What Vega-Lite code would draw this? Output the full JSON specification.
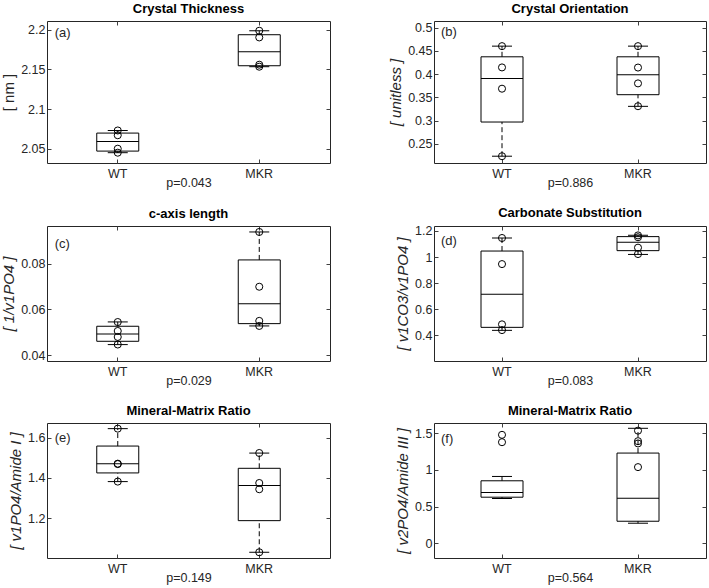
{
  "$schema": "https://vega.github.io/schema/vega-lite/v6.json",
  "padding": {"left": 1, "top": 2, "right": 0, "bottom": 0},
  "background": "white",
  "datasets": {
    "boxes": [
      {"panel": "a", "group": "WT", "lo": 2.045, "q1": 2.047, "med": 2.0592, "q3": 2.0697, "hi": 2.073},
      {"panel": "a", "group": "MKR", "lo": 2.1534, "q1": 2.1546, "med": 2.1723, "q3": 2.1937, "hi": 2.1987},
      {"panel": "b", "group": "WT", "lo": 0.2236, "q1": 0.297, "med": 0.3907, "q3": 0.4371, "hi": 0.46},
      {"panel": "b", "group": "MKR", "lo": 0.3307, "q1": 0.3557, "med": 0.3986, "q3": 0.4371, "hi": 0.46},
      {"panel": "c", "group": "WT", "lo": 0.04466, "q1": 0.0461, "med": 0.0493, "q3": 0.05266, "hi": 0.05455},
      {"panel": "c", "group": "MKR", "lo": 0.0528, "q1": 0.0538, "med": 0.0625, "q3": 0.0816, "hi": 0.0938},
      {"panel": "d", "group": "WT", "lo": 0.438, "q1": 0.461, "med": 0.715, "q3": 1.046, "hi": 1.146},
      {"panel": "d", "group": "MKR", "lo": 1.02, "q1": 1.049, "med": 1.113, "q3": 1.1566, "hi": 1.167},
      {"panel": "e", "group": "WT", "lo": 1.382, "q1": 1.425, "med": 1.471, "q3": 1.5585, "hi": 1.645},
      {"panel": "e", "group": "MKR", "lo": 1.031, "q1": 1.188, "med": 1.362, "q3": 1.448, "hi": 1.5236},
      {"panel": "f", "group": "WT", "lo": 0.609, "q1": 0.627, "med": 0.691, "q3": 0.85, "hi": 0.909},
      {"panel": "f", "group": "MKR", "lo": 0.273, "q1": 0.3, "med": 0.614, "q3": 1.227, "hi": 1.564}
    ],
    "points": [
      {"panel": "a", "group": "WT", "v": 2.073}, {"panel": "a", "group": "WT", "v": 2.067}, {"panel": "a", "group": "WT", "v": 2.05}, {"panel": "a", "group": "WT", "v": 2.045},
      {"panel": "a", "group": "MKR", "v": 2.1987}, {"panel": "a", "group": "MKR", "v": 2.1903}, {"panel": "a", "group": "MKR", "v": 2.1559}, {"panel": "a", "group": "MKR", "v": 2.1534},
      {"panel": "b", "group": "WT", "v": 0.46}, {"panel": "b", "group": "WT", "v": 0.4143}, {"panel": "b", "group": "WT", "v": 0.3686}, {"panel": "b", "group": "WT", "v": 0.2236},
      {"panel": "b", "group": "MKR", "v": 0.46}, {"panel": "b", "group": "MKR", "v": 0.414}, {"panel": "b", "group": "MKR", "v": 0.38}, {"panel": "b", "group": "MKR", "v": 0.331},
      {"panel": "c", "group": "WT", "v": 0.0545}, {"panel": "c", "group": "WT", "v": 0.0506}, {"panel": "c", "group": "WT", "v": 0.048}, {"panel": "c", "group": "WT", "v": 0.0447},
      {"panel": "c", "group": "MKR", "v": 0.0938}, {"panel": "c", "group": "MKR", "v": 0.0699}, {"panel": "c", "group": "MKR", "v": 0.055}, {"panel": "c", "group": "MKR", "v": 0.0528},
      {"panel": "d", "group": "WT", "v": 1.146}, {"panel": "d", "group": "WT", "v": 0.946}, {"panel": "d", "group": "WT", "v": 0.484}, {"panel": "d", "group": "WT", "v": 0.44},
      {"panel": "d", "group": "MKR", "v": 1.166}, {"panel": "d", "group": "MKR", "v": 1.152}, {"panel": "d", "group": "MKR", "v": 1.072}, {"panel": "d", "group": "MKR", "v": 1.023},
      {"panel": "e", "group": "WT", "v": 1.645}, {"panel": "e", "group": "WT", "v": 1.471}, {"panel": "e", "group": "WT", "v": 1.469}, {"panel": "e", "group": "WT", "v": 1.382},
      {"panel": "e", "group": "MKR", "v": 1.524}, {"panel": "e", "group": "MKR", "v": 1.375}, {"panel": "e", "group": "MKR", "v": 1.344}, {"panel": "e", "group": "MKR", "v": 1.031},
      {"panel": "f", "group": "WT", "v": 1.475}, {"panel": "f", "group": "WT", "v": 1.375},
      {"panel": "f", "group": "MKR", "v": 1.532}, {"panel": "f", "group": "MKR", "v": 1.389}, {"panel": "f", "group": "MKR", "v": 1.358}, {"panel": "f", "group": "MKR", "v": 1.036}
    ],
    "labels": [
      {"panel": "a", "label": "(a)"}, {"panel": "b", "label": "(b)"}, {"panel": "c", "label": "(c)"},
      {"panel": "d", "label": "(d)"}, {"panel": "e", "label": "(e)"}, {"panel": "f", "label": "(f)"}
    ]
  },
  "columns": 2,
  "align": "each",
  "spacing": {"row": 16, "column": 57},
  "concat": [
    {
      "title": "Crystal Thickness",
      "width": 283, "height": 142,
      "resolve": {"axis": {"x": "independent", "y": "independent"}},
      "encoding": {"x": {"field": "group", "type": "nominal", "scale": {"type": "band", "domain": ["WT", "MKR"], "paddingInner": 0, "paddingOuter": 0}, "axis": null}},
      "layer": [
        {"data": {"name": "boxes"}, "transform": [{"filter": "datum.panel === 'a'"}],
         "mark": {"type": "bar", "size": 42, "fill": "white", "stroke": "black", "strokeWidth": 1},
         "encoding": {
           "x": {"field": "group", "type": "nominal", "axis": {"orient": "bottom", "title": "p=0.043", "labelAngle": 0, "bandPosition": 0.5}},
           "y": {"field": "q1", "type": "quantitative", "scale": {"domain": [2.032, 2.211], "nice": false, "zero": false}, "axis": {"title": "[ nm ]", "titleFontStyle": "normal", "values": [2.05, 2.1, 2.15, 2.2], "format": "~g"}},
           "y2": {"field": "q3"}}},
        {"data": {"name": "boxes"}, "transform": [{"filter": "datum.panel === 'a'"}],
         "mark": {"type": "rule", "strokeDash": [5, 3], "color": "black"},
         "encoding": {"y": {"field": "q3", "type": "quantitative", "scale": {"domain": [2.032, 2.211], "nice": false, "zero": false}, "axis": null}, "y2": {"field": "hi"}}},
        {"data": {"name": "boxes"}, "transform": [{"filter": "datum.panel === 'a'"}],
         "mark": {"type": "rule", "strokeDash": [5, 3], "color": "black"},
         "encoding": {"y": {"field": "lo", "type": "quantitative", "scale": {"domain": [2.032, 2.211], "nice": false, "zero": false}, "axis": null}, "y2": {"field": "q1"}}},
        {"data": {"name": "boxes"}, "transform": [{"filter": "datum.panel === 'a'"}],
         "mark": {"type": "tick", "size": 42, "thickness": 1, "color": "black", "opacity": 1},
         "encoding": {"y": {"field": "med", "type": "quantitative", "scale": {"domain": [2.032, 2.211], "nice": false, "zero": false}, "axis": null}}},
        {"data": {"name": "boxes"}, "transform": [{"filter": "datum.panel === 'a'"}, {"fold": ["lo", "hi"]}],
         "mark": {"type": "tick", "size": 20, "thickness": 1, "color": "black", "opacity": 1},
         "encoding": {"y": {"field": "value", "type": "quantitative", "scale": {"domain": [2.032, 2.211], "nice": false, "zero": false}, "axis": null}}},
        {"data": {"name": "points"}, "transform": [{"filter": "datum.panel === 'a'"}],
         "mark": {"type": "point", "shape": "circle", "filled": false, "size": 50, "stroke": "black", "strokeWidth": 1, "opacity": 1},
         "encoding": {
           "x": {"field": "group", "type": "nominal", "axis": {"orient": "top", "labels": false, "title": null, "bandPosition": 0.5}},
           "y": {"field": "v", "type": "quantitative", "scale": {"domain": [2.032, 2.211], "nice": false, "zero": false}, "axis": {"orient": "right", "labels": false, "title": null, "values": [2.05, 2.1, 2.15, 2.2]}}}},
        {"data": {"name": "labels"}, "transform": [{"filter": "datum.panel === 'a'"}],
         "mark": {"type": "text", "align": "left", "baseline": "middle", "fontSize": 13, "dx": -63, "color": "#262626"},
         "encoding": {"x": {"datum": "WT", "axis": null}, "y": {"datum": 2.196, "axis": null}, "text": {"field": "label"}}}
      ]
    },
    {
      "title": "Crystal Orientation",
      "width": 272, "height": 142,
      "resolve": {"axis": {"x": "independent", "y": "independent"}},
      "encoding": {"x": {"field": "group", "type": "nominal", "scale": {"type": "band", "domain": ["WT", "MKR"], "paddingInner": 0, "paddingOuter": 0}, "axis": null}},
      "layer": [
        {"data": {"name": "boxes"}, "transform": [{"filter": "datum.panel === 'b'"}],
         "mark": {"type": "bar", "size": 42, "fill": "white", "stroke": "black", "strokeWidth": 1},
         "encoding": {
           "x": {"field": "group", "type": "nominal", "axis": {"orient": "bottom", "title": "p=0.886", "labelAngle": 0, "bandPosition": 0.5}},
           "y": {"field": "q1", "type": "quantitative", "scale": {"domain": [0.209, 0.514], "nice": false, "zero": false}, "axis": {"title": "[ unitless ]", "values": [0.25, 0.3, 0.35, 0.4, 0.45, 0.5], "format": "~g"}},
           "y2": {"field": "q3"}}},
        {"data": {"name": "boxes"}, "transform": [{"filter": "datum.panel === 'b'"}],
         "mark": {"type": "rule", "strokeDash": [5, 3], "color": "black"},
         "encoding": {"y": {"field": "q3", "type": "quantitative", "scale": {"domain": [0.209, 0.514], "nice": false, "zero": false}, "axis": null}, "y2": {"field": "hi"}}},
        {"data": {"name": "boxes"}, "transform": [{"filter": "datum.panel === 'b'"}],
         "mark": {"type": "rule", "strokeDash": [5, 3], "color": "black"},
         "encoding": {"y": {"field": "lo", "type": "quantitative", "scale": {"domain": [0.209, 0.514], "nice": false, "zero": false}, "axis": null}, "y2": {"field": "q1"}}},
        {"data": {"name": "boxes"}, "transform": [{"filter": "datum.panel === 'b'"}],
         "mark": {"type": "tick", "size": 42, "thickness": 1, "color": "black", "opacity": 1},
         "encoding": {"y": {"field": "med", "type": "quantitative", "scale": {"domain": [0.209, 0.514], "nice": false, "zero": false}, "axis": null}}},
        {"data": {"name": "boxes"}, "transform": [{"filter": "datum.panel === 'b'"}, {"fold": ["lo", "hi"]}],
         "mark": {"type": "tick", "size": 20, "thickness": 1, "color": "black", "opacity": 1},
         "encoding": {"y": {"field": "value", "type": "quantitative", "scale": {"domain": [0.209, 0.514], "nice": false, "zero": false}, "axis": null}}},
        {"data": {"name": "points"}, "transform": [{"filter": "datum.panel === 'b'"}],
         "mark": {"type": "point", "shape": "circle", "filled": false, "size": 50, "stroke": "black", "strokeWidth": 1, "opacity": 1},
         "encoding": {
           "x": {"field": "group", "type": "nominal", "axis": {"orient": "top", "labels": false, "title": null, "bandPosition": 0.5}},
           "y": {"field": "v", "type": "quantitative", "scale": {"domain": [0.209, 0.514], "nice": false, "zero": false}, "axis": {"orient": "right", "labels": false, "title": null, "values": [0.25, 0.3, 0.35, 0.4, 0.45, 0.5]}}}},
        {"data": {"name": "labels"}, "transform": [{"filter": "datum.panel === 'b'"}],
         "mark": {"type": "text", "align": "left", "baseline": "middle", "fontSize": 13, "dx": -61, "color": "#262626"},
         "encoding": {"x": {"datum": "WT", "axis": null}, "y": {"datum": 0.4907, "axis": null}, "text": {"field": "label"}}}
      ]
    },
    {
      "title": "c-axis length",
      "width": 283, "height": 135,
      "resolve": {"axis": {"x": "independent", "y": "independent"}},
      "encoding": {"x": {"field": "group", "type": "nominal", "scale": {"type": "band", "domain": ["WT", "MKR"], "paddingInner": 0, "paddingOuter": 0}, "axis": null}},
      "layer": [
        {"data": {"name": "boxes"}, "transform": [{"filter": "datum.panel === 'c'"}],
         "mark": {"type": "bar", "size": 42, "fill": "white", "stroke": "black", "strokeWidth": 1},
         "encoding": {
           "x": {"field": "group", "type": "nominal", "axis": {"orient": "bottom", "title": "p=0.029", "labelAngle": 0, "bandPosition": 0.5}},
           "y": {"field": "q1", "type": "quantitative", "scale": {"domain": [0.0375, 0.0964], "nice": false, "zero": false}, "axis": {"title": "[ 1/v1PO4 ]", "values": [0.04, 0.06, 0.08], "format": "~g"}},
           "y2": {"field": "q3"}}},
        {"data": {"name": "boxes"}, "transform": [{"filter": "datum.panel === 'c'"}],
         "mark": {"type": "rule", "strokeDash": [5, 3], "color": "black"},
         "encoding": {"y": {"field": "q3", "type": "quantitative", "scale": {"domain": [0.0375, 0.0964], "nice": false, "zero": false}, "axis": null}, "y2": {"field": "hi"}}},
        {"data": {"name": "boxes"}, "transform": [{"filter": "datum.panel === 'c'"}],
         "mark": {"type": "rule", "strokeDash": [5, 3], "color": "black"},
         "encoding": {"y": {"field": "lo", "type": "quantitative", "scale": {"domain": [0.0375, 0.0964], "nice": false, "zero": false}, "axis": null}, "y2": {"field": "q1"}}},
        {"data": {"name": "boxes"}, "transform": [{"filter": "datum.panel === 'c'"}],
         "mark": {"type": "tick", "size": 42, "thickness": 1, "color": "black", "opacity": 1},
         "encoding": {"y": {"field": "med", "type": "quantitative", "scale": {"domain": [0.0375, 0.0964], "nice": false, "zero": false}, "axis": null}}},
        {"data": {"name": "boxes"}, "transform": [{"filter": "datum.panel === 'c'"}, {"fold": ["lo", "hi"]}],
         "mark": {"type": "tick", "size": 20, "thickness": 1, "color": "black", "opacity": 1},
         "encoding": {"y": {"field": "value", "type": "quantitative", "scale": {"domain": [0.0375, 0.0964], "nice": false, "zero": false}, "axis": null}}},
        {"data": {"name": "points"}, "transform": [{"filter": "datum.panel === 'c'"}],
         "mark": {"type": "point", "shape": "circle", "filled": false, "size": 50, "stroke": "black", "strokeWidth": 1, "opacity": 1},
         "encoding": {
           "x": {"field": "group", "type": "nominal", "axis": {"orient": "top", "labels": false, "title": null, "bandPosition": 0.5}},
           "y": {"field": "v", "type": "quantitative", "scale": {"domain": [0.0375, 0.0964], "nice": false, "zero": false}, "axis": {"orient": "right", "labels": false, "title": null, "values": [0.04, 0.06, 0.08]}}}},
        {"data": {"name": "labels"}, "transform": [{"filter": "datum.panel === 'c'"}],
         "mark": {"type": "text", "align": "left", "baseline": "middle", "fontSize": 13, "dx": -63, "color": "#262626"},
         "encoding": {"x": {"datum": "WT", "axis": null}, "y": {"datum": 0.0887, "axis": null}, "text": {"field": "label"}}}
      ]
    },
    {
      "title": "Carbonate Substitution",
      "width": 272, "height": 135,
      "resolve": {"axis": {"x": "independent", "y": "independent"}},
      "encoding": {"x": {"field": "group", "type": "nominal", "scale": {"type": "band", "domain": ["WT", "MKR"], "paddingInner": 0, "paddingOuter": 0}, "axis": null}},
      "layer": [
        {"data": {"name": "boxes"}, "transform": [{"filter": "datum.panel === 'd'"}],
         "mark": {"type": "bar", "size": 42, "fill": "white", "stroke": "black", "strokeWidth": 1},
         "encoding": {
           "x": {"field": "group", "type": "nominal", "axis": {"orient": "bottom", "title": "p=0.083", "labelAngle": 0, "bandPosition": 0.5}},
           "y": {"field": "q1", "type": "quantitative", "scale": {"domain": [0.203, 1.238], "nice": false, "zero": false}, "axis": {"title": "[ v1CO3/v1PO4 ]", "values": [0.4, 0.6, 0.8, 1, 1.2], "format": "~g"}},
           "y2": {"field": "q3"}}},
        {"data": {"name": "boxes"}, "transform": [{"filter": "datum.panel === 'd'"}],
         "mark": {"type": "rule", "strokeDash": [5, 3], "color": "black"},
         "encoding": {"y": {"field": "q3", "type": "quantitative", "scale": {"domain": [0.203, 1.238], "nice": false, "zero": false}, "axis": null}, "y2": {"field": "hi"}}},
        {"data": {"name": "boxes"}, "transform": [{"filter": "datum.panel === 'd'"}],
         "mark": {"type": "rule", "strokeDash": [5, 3], "color": "black"},
         "encoding": {"y": {"field": "lo", "type": "quantitative", "scale": {"domain": [0.203, 1.238], "nice": false, "zero": false}, "axis": null}, "y2": {"field": "q1"}}},
        {"data": {"name": "boxes"}, "transform": [{"filter": "datum.panel === 'd'"}],
         "mark": {"type": "tick", "size": 42, "thickness": 1, "color": "black", "opacity": 1},
         "encoding": {"y": {"field": "med", "type": "quantitative", "scale": {"domain": [0.203, 1.238], "nice": false, "zero": false}, "axis": null}}},
        {"data": {"name": "boxes"}, "transform": [{"filter": "datum.panel === 'd'"}, {"fold": ["lo", "hi"]}],
         "mark": {"type": "tick", "size": 20, "thickness": 1, "color": "black", "opacity": 1},
         "encoding": {"y": {"field": "value", "type": "quantitative", "scale": {"domain": [0.203, 1.238], "nice": false, "zero": false}, "axis": null}}},
        {"data": {"name": "points"}, "transform": [{"filter": "datum.panel === 'd'"}],
         "mark": {"type": "point", "shape": "circle", "filled": false, "size": 50, "stroke": "black", "strokeWidth": 1, "opacity": 1},
         "encoding": {
           "x": {"field": "group", "type": "nominal", "axis": {"orient": "top", "labels": false, "title": null, "bandPosition": 0.5}},
           "y": {"field": "v", "type": "quantitative", "scale": {"domain": [0.203, 1.238], "nice": false, "zero": false}, "axis": {"orient": "right", "labels": false, "title": null, "values": [0.4, 0.6, 0.8, 1, 1.2]}}}},
        {"data": {"name": "labels"}, "transform": [{"filter": "datum.panel === 'd'"}],
         "mark": {"type": "text", "align": "left", "baseline": "middle", "fontSize": 13, "dx": -61, "color": "#262626"},
         "encoding": {"x": {"datum": "WT", "axis": null}, "y": {"datum": 1.123, "axis": null}, "text": {"field": "label"}}}
      ]
    },
    {
      "title": "Mineral-Matrix Ratio",
      "width": 283, "height": 135,
      "resolve": {"axis": {"x": "independent", "y": "independent"}},
      "encoding": {"x": {"field": "group", "type": "nominal", "scale": {"type": "band", "domain": ["WT", "MKR"], "paddingInner": 0, "paddingOuter": 0}, "axis": null}},
      "layer": [
        {"data": {"name": "boxes"}, "transform": [{"filter": "datum.panel === 'e'"}],
         "mark": {"type": "bar", "size": 42, "fill": "white", "stroke": "black", "strokeWidth": 1},
         "encoding": {
           "x": {"field": "group", "type": "nominal", "axis": {"orient": "bottom", "title": "p=0.149", "labelAngle": 0, "bandPosition": 0.5}},
           "y": {"field": "q1", "type": "quantitative", "scale": {"domain": [1.0025, 1.673], "nice": false, "zero": false}, "axis": {"title": "[ v1PO4/Amide I ]", "values": [1.2, 1.4, 1.6], "format": "~g"}},
           "y2": {"field": "q3"}}},
        {"data": {"name": "boxes"}, "transform": [{"filter": "datum.panel === 'e'"}],
         "mark": {"type": "rule", "strokeDash": [5, 3], "color": "black"},
         "encoding": {"y": {"field": "q3", "type": "quantitative", "scale": {"domain": [1.0025, 1.673], "nice": false, "zero": false}, "axis": null}, "y2": {"field": "hi"}}},
        {"data": {"name": "boxes"}, "transform": [{"filter": "datum.panel === 'e'"}],
         "mark": {"type": "rule", "strokeDash": [5, 3], "color": "black"},
         "encoding": {"y": {"field": "lo", "type": "quantitative", "scale": {"domain": [1.0025, 1.673], "nice": false, "zero": false}, "axis": null}, "y2": {"field": "q1"}}},
        {"data": {"name": "boxes"}, "transform": [{"filter": "datum.panel === 'e'"}],
         "mark": {"type": "tick", "size": 42, "thickness": 1, "color": "black", "opacity": 1},
         "encoding": {"y": {"field": "med", "type": "quantitative", "scale": {"domain": [1.0025, 1.673], "nice": false, "zero": false}, "axis": null}}},
        {"data": {"name": "boxes"}, "transform": [{"filter": "datum.panel === 'e'"}, {"fold": ["lo", "hi"]}],
         "mark": {"type": "tick", "size": 20, "thickness": 1, "color": "black", "opacity": 1},
         "encoding": {"y": {"field": "value", "type": "quantitative", "scale": {"domain": [1.0025, 1.673], "nice": false, "zero": false}, "axis": null}}},
        {"data": {"name": "points"}, "transform": [{"filter": "datum.panel === 'e'"}],
         "mark": {"type": "point", "shape": "circle", "filled": false, "size": 50, "stroke": "black", "strokeWidth": 1, "opacity": 1},
         "encoding": {
           "x": {"field": "group", "type": "nominal", "axis": {"orient": "top", "labels": false, "title": null, "bandPosition": 0.5}},
           "y": {"field": "v", "type": "quantitative", "scale": {"domain": [1.0025, 1.673], "nice": false, "zero": false}, "axis": {"orient": "right", "labels": false, "title": null, "values": [1.2, 1.4, 1.6]}}}},
        {"data": {"name": "labels"}, "transform": [{"filter": "datum.panel === 'e'"}],
         "mark": {"type": "text", "align": "left", "baseline": "middle", "fontSize": 13, "dx": -63, "color": "#262626"},
         "encoding": {"x": {"datum": "WT", "axis": null}, "y": {"datum": 1.6, "axis": null}, "text": {"field": "label"}}}
      ]
    },
    {
      "title": "Mineral-Matrix Ratio",
      "width": 272, "height": 135,
      "resolve": {"axis": {"x": "independent", "y": "independent"}},
      "encoding": {"x": {"field": "group", "type": "nominal", "scale": {"type": "band", "domain": ["WT", "MKR"], "paddingInner": 0, "paddingOuter": 0}, "axis": null}},
      "layer": [
        {"data": {"name": "boxes"}, "transform": [{"filter": "datum.panel === 'f'"}],
         "mark": {"type": "bar", "size": 42, "fill": "white", "stroke": "black", "strokeWidth": 1},
         "encoding": {
           "x": {"field": "group", "type": "nominal", "axis": {"orient": "bottom", "title": "p=0.564", "labelAngle": 0, "bandPosition": 0.5}},
           "y": {"field": "q1", "type": "quantitative", "scale": {"domain": [-0.2, 1.636], "nice": false, "zero": false}, "axis": {"title": "[ v2PO4/Amide III ]", "values": [0, 0.5, 1, 1.5], "format": "~g"}},
           "y2": {"field": "q3"}}},
        {"data": {"name": "boxes"}, "transform": [{"filter": "datum.panel === 'f'"}],
         "mark": {"type": "rule", "strokeDash": [5, 3], "color": "black"},
         "encoding": {"y": {"field": "q3", "type": "quantitative", "scale": {"domain": [-0.2, 1.636], "nice": false, "zero": false}, "axis": null}, "y2": {"field": "hi"}}},
        {"data": {"name": "boxes"}, "transform": [{"filter": "datum.panel === 'f'"}],
         "mark": {"type": "rule", "strokeDash": [5, 3], "color": "black"},
         "encoding": {"y": {"field": "lo", "type": "quantitative", "scale": {"domain": [-0.2, 1.636], "nice": false, "zero": false}, "axis": null}, "y2": {"field": "q1"}}},
        {"data": {"name": "boxes"}, "transform": [{"filter": "datum.panel === 'f'"}],
         "mark": {"type": "tick", "size": 42, "thickness": 1, "color": "black", "opacity": 1},
         "encoding": {"y": {"field": "med", "type": "quantitative", "scale": {"domain": [-0.2, 1.636], "nice": false, "zero": false}, "axis": null}}},
        {"data": {"name": "boxes"}, "transform": [{"filter": "datum.panel === 'f'"}, {"fold": ["lo", "hi"]}],
         "mark": {"type": "tick", "size": 20, "thickness": 1, "color": "black", "opacity": 1},
         "encoding": {"y": {"field": "value", "type": "quantitative", "scale": {"domain": [-0.2, 1.636], "nice": false, "zero": false}, "axis": null}}},
        {"data": {"name": "points"}, "transform": [{"filter": "datum.panel === 'f'"}],
         "mark": {"type": "point", "shape": "circle", "filled": false, "size": 50, "stroke": "black", "strokeWidth": 1, "opacity": 1},
         "encoding": {
           "x": {"field": "group", "type": "nominal", "axis": {"orient": "top", "labels": false, "title": null, "bandPosition": 0.5}},
           "y": {"field": "v", "type": "quantitative", "scale": {"domain": [-0.2, 1.636], "nice": false, "zero": false}, "axis": {"orient": "right", "labels": false, "title": null, "values": [0, 0.5, 1, 1.5]}}}},
        {"data": {"name": "labels"}, "transform": [{"filter": "datum.panel === 'f'"}],
         "mark": {"type": "text", "align": "left", "baseline": "middle", "fontSize": 13, "dx": -61, "color": "#262626"},
         "encoding": {"x": {"datum": "WT", "axis": null}, "y": {"datum": 1.423, "axis": null}, "text": {"field": "label"}}}
      ]
    }
  ],
  "config": {
    "font": "Liberation Sans",
    "view": {"stroke": "#262626", "strokeWidth": 1},
    "title": {"font": "Liberation Sans", "fontSize": 13, "fontWeight": "bold", "color": "#000000", "anchor": "middle", "offset": 5},
    "axis": {
      "grid": false, "domain": false, "tickSize": -4, "tickColor": "#404040", "tickWidth": 1,
      "labelFont": "Liberation Sans", "labelFontSize": 12.5, "labelColor": "#262626",
      "titleFont": "Liberation Sans", "titleFontSize": 15, "titleFontWeight": "normal", "titleColor": "#262626"
    },
    "axisY": {"labelPadding": 6, "titlePadding": 4, "titleFontStyle": "italic"},
    "axisX": {"labelPadding": 8, "titlePadding": -3, "titleFontSize": 12.5}
  }
}
